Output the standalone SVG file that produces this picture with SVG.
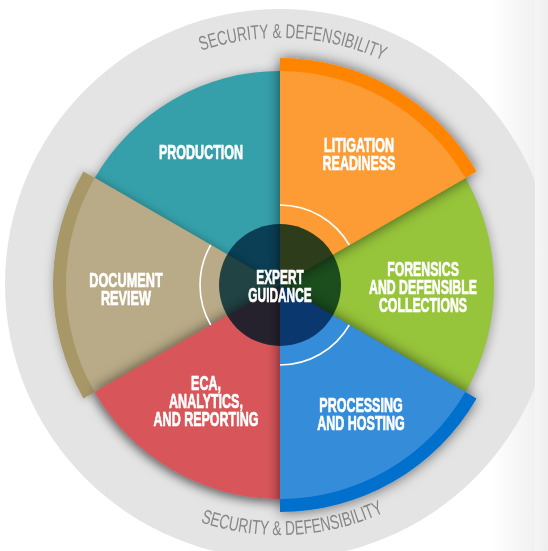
<svg xmlns="http://www.w3.org/2000/svg" width="548" height="551" viewBox="0 0 548 551">
<defs>
<style>
.lbl{font-family:"Liberation Sans",Arial,sans-serif;font-weight:bold;font-size:20.5px;fill:#fff;stroke:#fff;stroke-width:0.7;text-anchor:middle}
.sec{font-family:"Liberation Sans",Arial,sans-serif;font-size:20px;fill:#878787;text-anchor:middle}
.arc{fill:none;stroke:#fff;stroke-width:1.6}
</style>
<filter id="sh" x="-30%" y="-30%" width="160%" height="160%">
<feDropShadow dx="0" dy="0" stdDeviation="7" flood-color="#000" flood-opacity="0.6"/>
</filter>
<filter id="shl" x="-30%" y="-30%" width="160%" height="160%">
<feDropShadow dx="0" dy="0" stdDeviation="5" flood-color="#000" flood-opacity="0.3"/>
</filter>
<filter id="blur" x="-20%" y="-20%" width="140%" height="140%">
<feGaussianBlur stdDeviation="5"/>
</filter>
<linearGradient id="edge" x1="0" y1="0" x2="1" y2="0">
<stop offset="0" stop-color="#ffffff"/>
<stop offset="1" stop-color="#ededed"/>
</linearGradient>
<linearGradient id="edge2" x1="0" y1="0" x2="1" y2="0">
<stop offset="0" stop-color="#f6f6f6"/>
<stop offset="1" stop-color="#eeeeee"/>
</linearGradient>
<path id="topArc" d="M72.8,150.5 A247,247 0 0 1 500.1,172.9"/>
<path id="botArc" d="M70.3,421.2 A250,250 0 0 0 502.8,398.5"/>
</defs>
<rect width="548" height="551" fill="#fff"/>
<rect x="490" y="0" width="58" height="551" fill="url(#edge)"/>
<g id="ring">
<circle cx="280" cy="284" r="275" fill="#e4e4e4"/>
<text class="sec"><textPath href="#topArc" startOffset="50%" textLength="186" lengthAdjust="spacingAndGlyphs">SECURITY &amp; DEFENSIBILITY</textPath></text>
<text class="sec"><textPath href="#botArc" startOffset="50%" textLength="188" lengthAdjust="spacingAndGlyphs">SECURITY &amp; DEFENSIBILITY</textPath></text>
</g>
<rect x="535" y="0" width="13" height="551" fill="url(#edge2)"/>
<circle cx="280" cy="287" r="216" fill="#000" opacity="0.25" filter="url(#blur)"/>
<g id="production">
<path d="M280,285 L94.67,178 A214,214 0 0 1 280,71 Z" fill="#35a0aa"/>
<text class="lbl" transform="translate(201,0) scale(0.61,1)"><tspan x="0" y="159">PRODUCTION</tspan></text>
</g>
<g id="forensics">
<path d="M280,285 L465.33,178 A214,214 0 0 1 465.33,392 Z" fill="#96c43a"/>
</g>
<g id="document-review" filter="url(#shl)">
<path d="M280,285 L83.41,398.5 A227,227 0 0 1 83.41,171.5 Z" fill="#a89867"/>
<path d="M280,285 L94.67,392 A214,214 0 0 1 94.67,178 Z" fill="#b9ab87"/>
</g>
<g id="eca" filter="url(#sh)">
<path d="M280,285 L280,499 A214,214 0 0 1 94.67,392 Z" fill="#d8565a"/>
</g>
<g id="litigation" filter="url(#sh)">
<path d="M280,285 L280,58 A227,227 0 0 1 476.59,171.5 Z" fill="#ff8400"/>
<path d="M280,285 L280,71 A214,214 0 0 1 465.33,178 Z" fill="#fd9c34"/>
</g>
<g id="processing" filter="url(#sh)">
<path d="M280,285 L476.59,398.5 A227,227 0 0 1 280,512 Z" fill="#0070cd"/>
<path d="M280,285 L465.33,392 A214,214 0 0 1 280,499 Z" fill="#368cd9"/>
</g>
<g id="connectors">
<path class="arc" d="M280,205 A80,80 0 0 1 349.28,245"/>
<path class="arc" d="M349.28,325 A80,80 0 0 1 280,365"/>
<path class="arc" d="M210.72,325 A80,80 0 0 1 210.72,245"/>
</g>
<g id="labels">
<text class="lbl" transform="translate(359,0) scale(0.61,1)"><tspan x="0" y="152">LITIGATION</tspan><tspan x="0" y="170">READINESS</tspan></text>
<text class="lbl" transform="translate(423,0) scale(0.6,1)"><tspan x="0" y="276">FORENSICS</tspan><tspan x="0" y="294">AND DEFENSIBLE</tspan><tspan x="0" y="312">COLLECTIONS</tspan></text>
<text class="lbl" transform="translate(361,0) scale(0.61,1)"><tspan x="0" y="412">PROCESSING</tspan><tspan x="0" y="430">AND HOSTING</tspan></text>
<text class="lbl" transform="translate(206,0) scale(0.61,1)"><tspan x="0" y="390">ECA,</tspan><tspan x="0" y="408">ANALYTICS,</tspan><tspan x="0" y="426">AND REPORTING</tspan></text>
<text class="lbl" transform="translate(126,0) scale(0.62,1)"><tspan x="0" y="287">DOCUMENT</tspan><tspan x="0" y="305">REVIEW</tspan></text>
</g>
<g id="expert-guidance">
<circle cx="280" cy="285" r="61" fill="#2d6480" style="mix-blend-mode:multiply"/>
<text class="lbl" transform="translate(280,0) scale(0.58,1)"><tspan x="0" y="284">EXPERT</tspan><tspan x="0" y="302">GUIDANCE</tspan></text>
</g>
</svg>
